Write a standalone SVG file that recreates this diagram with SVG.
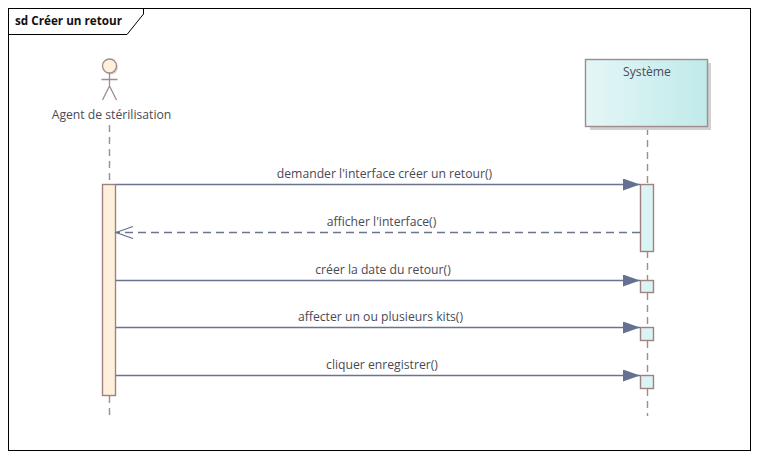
<svg xmlns="http://www.w3.org/2000/svg" width="759" height="459" viewBox="0 0 759 459">
<style>
text{font-family:"Open Sans","Noto Sans","Liberation Sans",sans-serif;font-size:12.2px;fill:#4a4a55;text-anchor:middle}
.ll{stroke:#a08c8c;stroke-width:1.4;stroke-dasharray:7 5;fill:none}
.msg{stroke:#6a7490;stroke-width:1.5;fill:none}
.act{stroke:#a08080;stroke-width:1.4}
.sys{fill:#daf3f3}
.usr{fill:#fff0dc}
</style>
<defs>
<linearGradient id="g"><stop offset="0" stop-color="#e4f6f6"/><stop offset="1" stop-color="#c0eaea"/></linearGradient>
<marker id="fill" markerUnits="userSpaceOnUse" markerWidth="18" markerHeight="14" refX="17" refY="6" orient="auto"><path d="M0 0L17 6L0 12Z" fill="#667190"/></marker>
<marker id="open" markerUnits="userSpaceOnUse" markerWidth="20" markerHeight="14" refX="18" refY="6" orient="auto"><path d="M1 0L18 6L1 12" fill="none" stroke="#667190" stroke-width="1.2"/></marker>
</defs>
<rect width="759" height="459" fill="#fff"/>
<g id="frame">
<rect x="8.5" y="8.5" width="742" height="442" fill="none" stroke="#000" stroke-width="1"/>
<path d="M8.5 34.500H127L143.500 14V8.500" fill="none" stroke="#000" stroke-width="1"/>
<text x="15" y="25" style="text-anchor:start;font-weight:700;font-size:11.7px;fill:#111">sd Créer un retour</text>
</g>
<g id="lifelines">
<path class="ll" d="M109.500 125V184M109.500 396V416"/>
<path class="ll" d="M647.500 128V184M647.500 251V281M647.500 293V327M647.500 341V375M647.500 389V416"/>
</g>
<g id="actor">
<circle cx="111" cy="67.500" r="7" fill="#d8d8d8"/>
<circle cx="109.500" cy="66" r="7" fill="#fff0dc" stroke="#a08c8c" stroke-width="1.300"/>
<path d="M109.500 73V86M101.500 79.500H117.500M102.500 100L109.500 86L116.500 100" fill="none" stroke="#a08c8c" stroke-width="1.300"/>
<text x="111.500" y="119">Agent de stérilisation</text>
</g>
<g id="systeme">
<rect x="590" y="63" width="121" height="67" fill="#d0d0d0"/>
<rect x="585.500" y="59.500" width="122" height="67" fill="url(#g)" stroke="#a08c8c" stroke-width="1.400"/>
<text x="647" y="76">Système</text>
</g>
<g id="activations">
<rect class="act usr" x="102.500" y="184.500" width="13" height="211"/>
<rect class="act sys" x="640.500" y="184.500" width="13" height="67"/>
<rect class="act sys" x="640.500" y="280.500" width="13" height="12"/>
<rect class="act sys" x="640.500" y="327.500" width="13" height="13"/>
<rect class="act sys" x="640.500" y="375.500" width="13" height="13"/>
</g>
<g id="connectors">
<path class="msg" d="M116 184.500H640" marker-end="url(#fill)"/>
<path class="msg" d="M640 232.500H116" stroke-dasharray="8 5" marker-end="url(#open)"/>
<path class="msg" d="M116 280.500H640" marker-end="url(#fill)"/>
<path class="msg" d="M116 327.500H640" marker-end="url(#fill)"/>
<path class="msg" d="M116 375.500H640" marker-end="url(#fill)"/>
</g>
<g id="labels">
<text x="384.500" y="178">demander l'interface créer un retour()</text>
<text x="381.500" y="226">afficher l'interface()</text>
<text x="383" y="274">créer la date du retour()</text>
<text x="380.500" y="321">affecter un ou plusieurs kits()</text>
<text x="382" y="369">cliquer enregistrer()</text>
</g>
</svg>
